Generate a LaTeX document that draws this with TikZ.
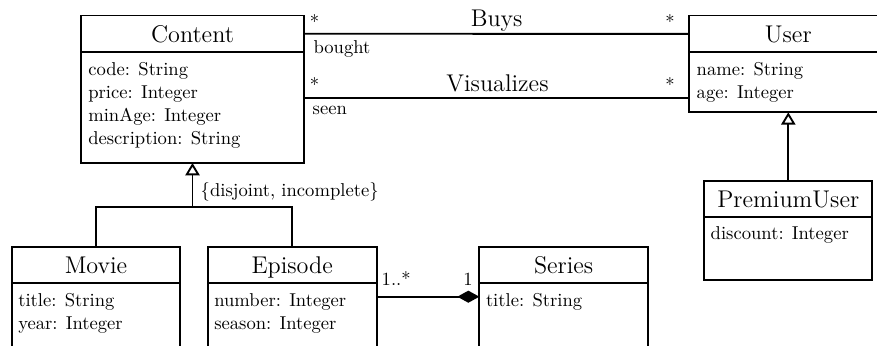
\documentclass[tikz,border=0pt]{standalone}
\usetikzlibrary{fit,arrows.meta}
\newcommand{\attrfont}{\fontsize{10}{12.4}\selectfont}
\newcommand{\clsfont}{\fontsize{13}{15.6}\selectfont}
\begin{document}
\begin{tikzpicture}[x=0.5376pt, y=-0.5376pt,
  every node/.style={inner sep=0pt, outer sep=0pt},
  ln/.style={line width=1pt},
  box/.style={draw, ln, inner sep=0pt},
  sz/.style 2 args={minimum width={#1*0.5376pt}, minimum height={#2*0.5376pt}},
  cls/.style={box, font=\clsfont, text height=9.46pt, text depth=0pt},
  attrs/.style={anchor=north west, align=left, font=\attrfont},
  lbl/.style={font=\attrfont},
  ttl/.style={font=\clsfont},
  gen/.style={ln, -{Triangle[open, length=6.6pt, width=7.6pt]}},
  comp/.style={ln, -{Diamond[length=11.8pt, width=6.5pt]}},
]
\clip (0,0) rectangle (877,345);

% Content
\node[cls, sz={223}{36.5}] (content) at (192.5,33.75) {Content};
\node[box, fit={(81,52) (304,163)}] (contentA) {};
\node[attrs] (contentT) at (88.3,62.1) {code: String\\price: Integer\\minAge: Integer\\description: String};

% User
\node[cls, sz={198}{36.8}] (user) at (788.3,33.9) {User};
\node[box, fit={(689.3,52.3) (887.3,112.3)}] (userA) {};
\node[attrs] (userT) at (696.7,62.1) {name: String\\age: Integer};

% PremiumUser
\node[cls, sz={168}{35.7}] (premium) at (788.3,198.85) {PremiumUser};
\node[box, fit={(704.3,216.7) (872.3,280)}] (premiumA) {};
\node[attrs] (premiumT) at (710.7,226.1) {discount: Integer};

% Movie
\node[cls, sz={168.6}{36}] (movie) at (96,264.7) {Movie};
\node[box, fit={(11.7,282.7) (180.3,360)}] (movieA) {};
\node[attrs] (movieT) at (18.3,293.1) {title: String\\year: Integer};

% Episode
\node[cls, sz={169}{36}] (episode) at (292.2,264.7) {Episode};
\node[box, fit={(207.7,282.7) (376.7,360)}] (episodeA) {};
\node[attrs] (episodeT) at (214.3,293.1) {number: Integer\\season: Integer};

% Series
\node[cls, sz={168.7}{36}] (series) at (563.65,264.7) {Series};
\node[box, fit={(479.3,282.7) (648,360)}] (seriesA) {};
\node[attrs] (seriesT) at (486,293.1) {title: String};

% Associations
\draw[ln] (content.east) -- (user.west);
\coordinate (visY) at (0,97.7);
\draw[ln] (contentA.east |- visY) -- (userA.west |- visY);

\node[lbl, anchor=base] (m1) at (314.5,28.2) {*};
\node[lbl, anchor=base west] (rBought) at (313.5,53) {bought};
\node[lbl, anchor=base] (m2) at (314.5,91) {*};
\node[lbl, anchor=base west] (rSeen) at (312.7,114) {seen};
\node[lbl, anchor=base] (m3) at (670,28.2) {*};
\node[lbl, anchor=base] (m4) at (670,91) {*};
\node[ttl, anchor=base] (buys) at (496.7,26.7) {Buys};
\node[ttl, anchor=base] (visualizes) at (497.5,91.7) {Visualizes};

% Generalizations
\coordinate (genY) at (0,206.7);
\draw[ln] (movie.north) -- (movie.north |- genY) -- (episode.north |- genY) -- (episode.north);
\draw[gen] (contentA.south |- genY) -- (contentA.south);
\node[lbl, anchor=base west] (disj) at (200.7,196) {\{disjoint, incomplete\}};
\draw[gen] (premium.north) -- (userA.south);

% Composition
\coordinate (compY) at (0,296.7);
\draw[comp] (episodeA.east |- compY) -- (seriesA.west |- compY);
\node[lbl, anchor=base west] (m5) at (381.7,285.7) {1..*};
\node[lbl, anchor=base east] (m6) at (472.7,285.7) {1};
\end{tikzpicture}
\end{document}
